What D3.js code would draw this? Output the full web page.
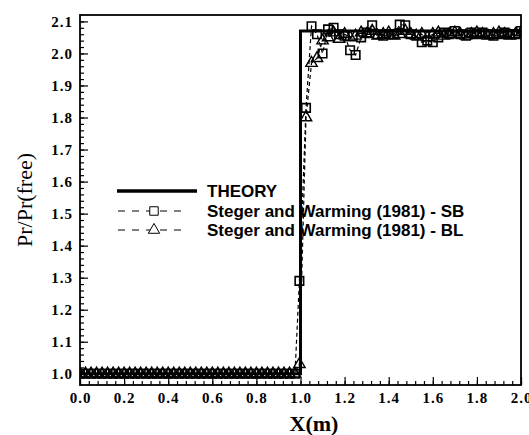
<!DOCTYPE html>
<html>
<head>
<meta charset="utf-8">
<script src="https://cdn.jsdelivr.net/npm/d3@7"></script>
<style>
  html, body { margin: 0; padding: 0; background: #fff; }
  svg { display: block; }
</style>
</head>
<body>
<div id="chart"></div>
<script>
'use strict';

// データ
const gridX = [0.000, 0.025, 0.050, 0.075, 0.100, 0.125, 0.150, 0.175, 0.200, 0.225,
    0.250, 0.275, 0.300, 0.325, 0.350, 0.375, 0.400, 0.425, 0.450, 0.475,
    0.500, 0.525, 0.550, 0.575, 0.600, 0.625, 0.650, 0.675, 0.700, 0.725,
    0.750, 0.775, 0.800, 0.825, 0.850, 0.875, 0.900, 0.925, 0.950, 0.975,
    0.995, 1.025, 1.050, 1.075, 1.100, 1.125, 1.150, 1.175, 1.200, 1.225,
    1.250, 1.275, 1.300, 1.325, 1.350, 1.375, 1.400, 1.425, 1.450, 1.475,
    1.500, 1.525, 1.550, 1.575, 1.600, 1.625, 1.650, 1.675, 1.700, 1.725,
    1.750, 1.775, 1.800, 1.825, 1.850, 1.875, 1.900, 1.925, 1.950, 1.975, 2.000];

const sbY = [1.0, 1.0, 1.0, 1.0, 1.0, 1.0, 1.0, 1.0, 1.0, 1.0,
    1.0, 1.0, 1.0, 1.0, 1.0, 1.0, 1.0, 1.0, 1.0, 1.0,
    1.0, 1.0, 1.0, 1.0, 1.0, 1.0, 1.0, 1.0, 1.0, 1.0,
    1.0, 1.0, 1.0, 1.0, 1.0, 1.0, 1.0, 1.0, 1.0, 1.0,
    1.29, 1.83, 2.085, 2.06, 2.00, 2.075, 2.08, 2.06, 2.055, 2.01,
    1.995, 2.05, 2.065, 2.088, 2.06, 2.055, 2.06, 2.06, 2.09, 2.088,
    2.06, 2.055, 2.035, 2.04, 2.035, 2.05, 2.065, 2.06, 2.07, 2.06,
    2.055, 2.065, 2.06, 2.065, 2.06, 2.055, 2.06, 2.065, 2.06, 2.06, 2.07];

const blY = [1.0, 1.0, 1.0, 1.0, 1.0, 1.0, 1.0, 1.0, 1.0, 1.0,
    1.0, 1.0, 1.0, 1.0, 1.0, 1.0, 1.0, 1.0, 1.0, 1.0,
    1.0, 1.0, 1.0, 1.0, 1.0, 1.0, 1.0, 1.0, 1.0, 1.0,
    1.0, 1.0, 1.0, 1.0, 1.0, 1.0, 1.0, 1.0, 1.0, 1.0,
    1.03, 1.80, 1.97, 1.985, 2.04, 2.05, 2.065, 2.045, 2.06, 2.05,
    2.055, 2.065, 2.06, 2.07, 2.055, 2.06, 2.065, 2.055, 2.06, 2.07,
    2.06, 2.055, 2.06, 2.05, 2.06, 2.065, 2.055, 2.06, 2.065, 2.06,
    2.055, 2.06, 2.065, 2.06, 2.055, 2.06, 2.065, 2.06, 2.055, 2.06, 2.065];

const theoryX = [0.0, 1.0, 1.0, 2.0];
const theoryY = [1.0, 1.0, 2.07, 2.07];

const xTicks = [0.0, 0.2, 0.4, 0.6, 0.8, 1.0, 1.2, 1.4, 1.6, 1.8, 2.0];
const yTicks = [1.0, 1.1, 1.2, 1.3, 1.4, 1.5, 1.6, 1.7, 1.8, 1.9, 2.0, 2.1];

const legendLabels = ['THEORY', 'Steger and Warming (1981) - SB', 'Steger and Warming (1981) - BL'];

// 描画
const width = 529;
const height = 435;
const plot = { left: 80, right: 521, top: 15, bottom: 385 };

const x = d3.scaleLinear().domain([0, 2]).range([plot.left, plot.right]);
const y = d3.scaleLinear().domain([0.965, 2.12]).range([plot.bottom, plot.top]);

const svg = d3.select('#chart')
    .append('svg')
    .attr('width', width)
    .attr('height', height)
    .attr('viewBox', `0 0 ${width} ${height}`);

svg.append('defs').append('clipPath')
    .attr('id', 'clip')
    .append('rect')
    .attr('x', plot.left)
    .attr('y', plot.top)
    .attr('width', plot.right - plot.left)
    .attr('height', plot.bottom - plot.top);

const tickFont = 'bold 15px "Liberation Serif", "DejaVu Serif", serif';

// 副目盛り
const xMinor = d3.range(0, 2.0001, 0.04);
const yMinor = d3.range(1.0, 2.1001, 0.02);

svg.append('g')
    .attr('transform', `translate(0, ${plot.bottom})`)
    .call(d3.axisBottom(x).tickValues(xMinor).tickSize(-4).tickFormat(''))
    .call(g => g.select('.domain').remove());
svg.append('g')
    .attr('transform', `translate(${plot.left}, 0)`)
    .call(d3.axisLeft(y).tickValues(yMinor).tickSize(-4).tickFormat(''))
    .call(g => g.select('.domain').remove());

// 主目盛り
const xAxis = svg.append('g')
    .attr('transform', `translate(0, ${plot.bottom})`)
    .call(d3.axisBottom(x).tickValues(xTicks).tickSize(-8).tickPadding(7).tickFormat(d3.format('.1f')))
    .call(g => g.select('.domain').remove());
const yAxis = svg.append('g')
    .attr('transform', `translate(${plot.left}, 0)`)
    .call(d3.axisLeft(y).tickValues(yTicks).tickSize(-8).tickPadding(7).tickFormat(d3.format('.1f')))
    .call(g => g.select('.domain').remove());

[xAxis, yAxis].forEach(ax => {
    ax.selectAll('text')
        .style('font', tickFont)
        .attr('fill', '#000')
        .attr('letter-spacing', '1px');
});
svg.selectAll('.tick line').attr('stroke', '#000').attr('stroke-width', 1.2);

// データ系列
const dataWrap = svg.append('g').attr('clip-path', 'url(#clip)');

const lineGen = d3.line().x(d => x(d[0])).y(d => y(d[1]));

// 理論線
dataWrap.append('path')
    .datum(theoryX.map((v, i) => [v, theoryY[i]]))
    .attr('d', lineGen)
    .attr('fill', 'none')
    .attr('stroke', '#000')
    .attr('stroke-width', 3);

const sbData = gridX.map((v, i) => [v, sbY[i]]);
const blData = gridX.map((v, i) => [v, blY[i]]);

[sbData, blData].forEach(ds => {
    dataWrap.append('path')
        .datum(ds)
        .attr('d', lineGen)
        .attr('fill', 'none')
        .attr('stroke', '#000')
        .attr('stroke-width', 1.2)
        .attr('stroke-dasharray', '4,3');
});

const squareSym = d3.symbol().type(d3.symbolSquare).size(72);
const triSym = d3.symbol().type(d3.symbolTriangle).size(56);

dataWrap.selectAll('.sb')
    .data(sbData)
    .enter()
    .append('path')
    .attr('class', 'sb')
    .attr('d', squareSym)
    .attr('transform', d => `translate(${x(d[0])}, ${y(d[1])})`)
    .attr('fill', 'none')
    .attr('stroke', '#000')
    .attr('stroke-width', 1.6);

dataWrap.selectAll('.bl')
    .data(blData)
    .enter()
    .append('path')
    .attr('class', 'bl')
    .attr('d', triSym)
    .attr('transform', d => `translate(${x(d[0])}, ${y(d[1])})`)
    .attr('fill', 'none')
    .attr('stroke', '#000')
    .attr('stroke-width', 1.4);

// 枠
svg.append('rect')
    .attr('x', plot.left)
    .attr('y', plot.top)
    .attr('width', plot.right - plot.left)
    .attr('height', plot.bottom - plot.top)
    .attr('fill', 'none')
    .attr('stroke', '#000')
    .attr('stroke-width', 1.8);

// 凡例
const legend = svg.append('g');
const rowY = [191, 211, 230];
legend.append('line')
    .attr('x1', 117).attr('x2', 197)
    .attr('y1', rowY[0]).attr('y2', rowY[0])
    .attr('stroke', '#000').attr('stroke-width', 3.5);
[1, 2].forEach(i => {
    legend.append('line')
        .attr('x1', 118).attr('x2', 188)
        .attr('y1', rowY[i]).attr('y2', rowY[i])
        .attr('stroke', '#000').attr('stroke-width', 1)
        .attr('stroke-dasharray', '7,7');
    legend.append('path')
        .attr('d', i === 1 ? squareSym : triSym)
        .attr('transform', `translate(154, ${rowY[i]})`)
        .attr('fill', '#fff')
        .attr('stroke', '#000');
});
legend.selectAll('.legend_label')
    .data(legendLabels)
    .enter()
    .append('text')
    .attr('class', 'legend_label')
    .attr('x', 207)
    .attr('y', (d, i) => rowY[i] + 6)
    .style('font', 'bold 17px "Liberation Sans", Arial, sans-serif')
    .attr('fill', '#000')
    .text(d => d);

// 軸タイトル
svg.append('text')
    .attr('x', 314)
    .attr('y', 431)
    .attr('text-anchor', 'middle')
    .style('font', 'bold 22px "Liberation Serif", serif')
    .text('X(m)');

svg.append('text')
    .attr('transform', 'translate(32, 200) rotate(-90)')
    .attr('text-anchor', 'middle')
    .style('font', '22px "Liberation Serif", serif')
    .text('Pr/Pr(free)');
</script>
</body>
</html>
